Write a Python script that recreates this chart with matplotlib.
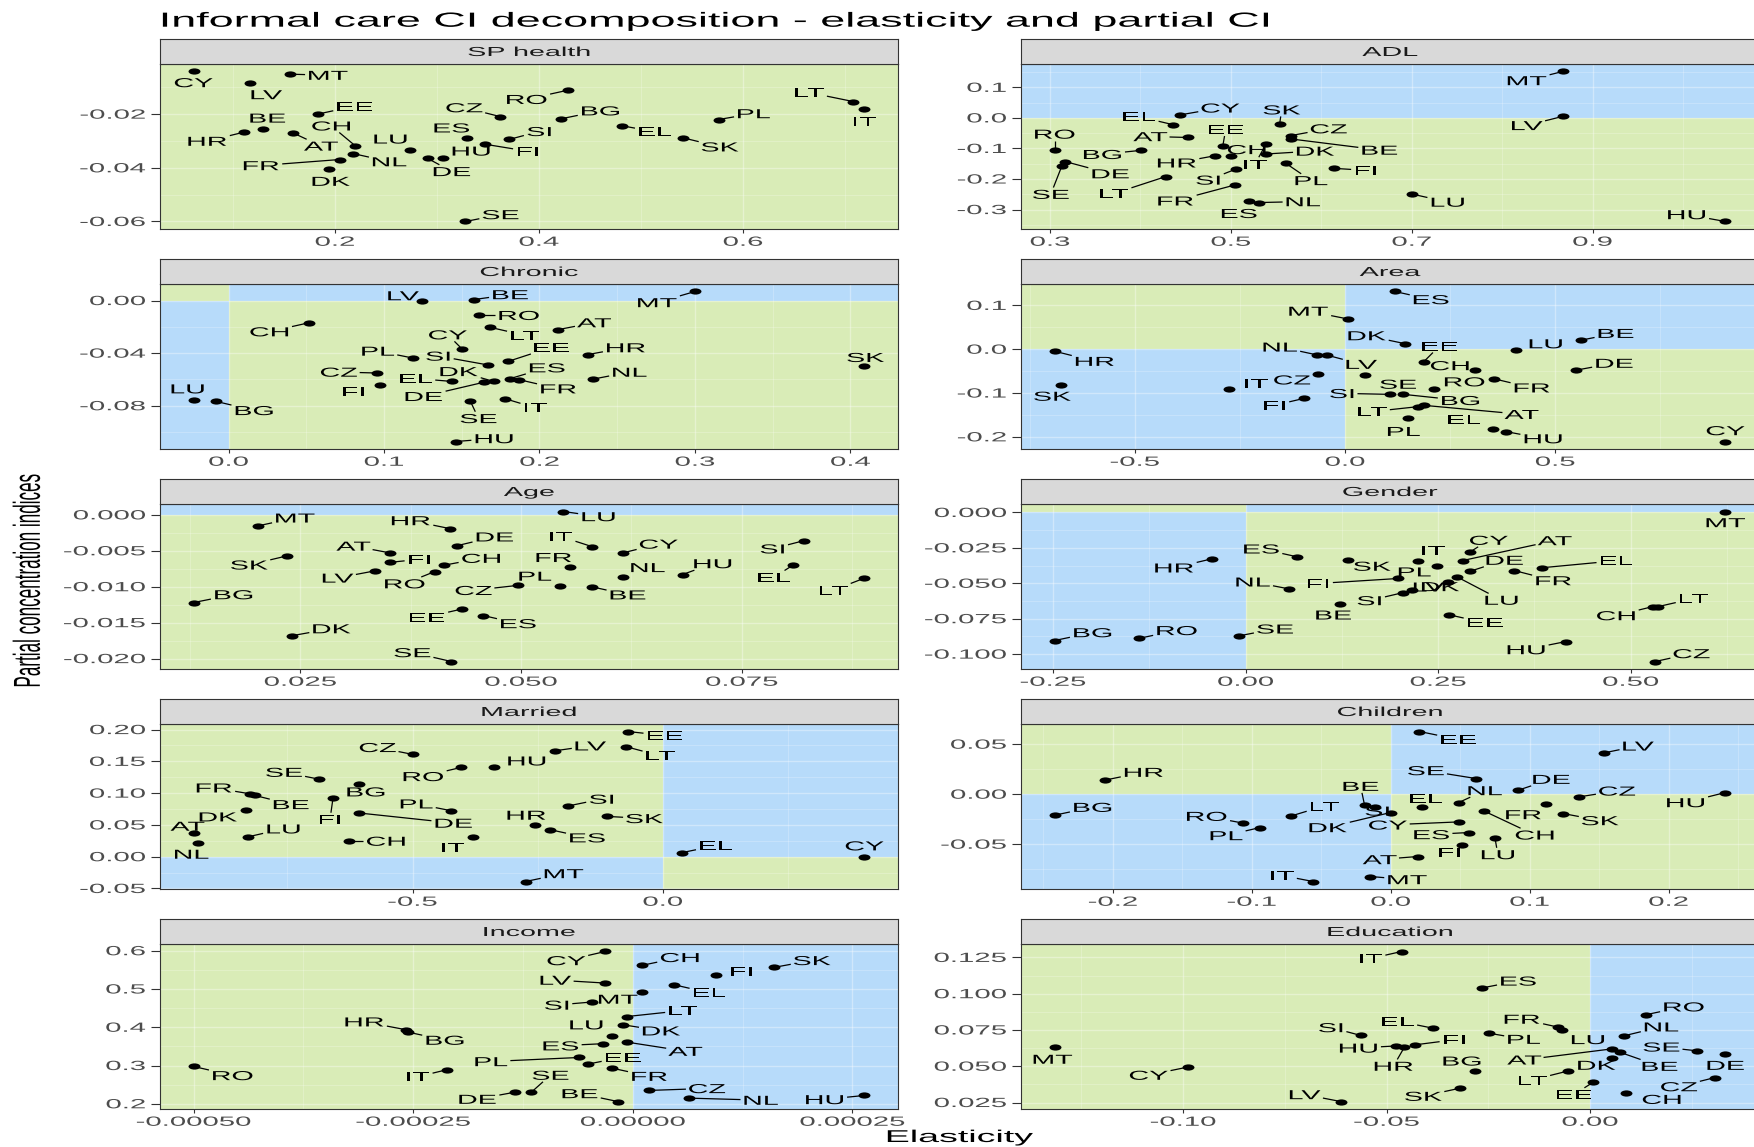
import numpy as np
import matplotlib
matplotlib.use("Agg")
import matplotlib.pyplot as plt
from matplotlib import patheffects
from matplotlib.transforms import Affine2D
from matplotlib.path import Path
from matplotlib.patches import Rectangle

plt.rcParams["font.family"] = ["Liberation Sans", "DejaVu Sans"]

# ---------------------------------------------------------------- data
countries = ["AT", "BE", "BG", "CH", "CY", "CZ", "DE", "DK", "EE", "EL", "ES", "FI", "FR",
             "HR", "HU", "IT", "LT", "LU", "LV", "MT", "NL", "PL", "RO", "SE", "SI", "SK"]

panel_titles = ["SP health", "ADL", "Chronic", "Area", "Age", "Gender",
                "Married", "Children", "Income", "Education"]

sp_health_elast = [0.159, 0.130, 0.422, 0.220, 0.0615, 0.362, 0.291, 0.194, 0.183, 0.481, 0.329, 0.347, 0.205,
                   0.111, 0.306, 0.719, 0.708, 0.274, 0.117, 0.156, 0.218, 0.576, 0.428, 0.328, 0.371, 0.541]
sp_health_ci = [-0.0270, -0.0255, -0.0217, -0.0318, -0.0041, -0.0209, -0.0365, -0.0405, -0.0200, -0.0243, -0.0288, -0.0312, -0.0369,
                -0.0267, -0.0363, -0.0181, -0.0153, -0.0333, -0.0082, -0.0051, -0.0347, -0.0220, -0.0111, -0.0600, -0.0294, -0.0288]

adl_elast = [0.453, 0.567, 0.401, 0.500, 0.444, 0.566, 0.317, 0.539, 0.491, 0.436, 0.520, 0.614, 0.505,
             0.482, 1.047, 0.539, 0.428, 0.700, 0.867, 0.867, 0.531, 0.561, 0.305, 0.313, 0.506, 0.554]
adl_ci = [-0.064, -0.069, -0.106, -0.126, 0.010, -0.058, -0.143, -0.118, -0.093, -0.022, -0.273, -0.165, -0.219,
          -0.124, -0.339, -0.085, -0.192, -0.249, 0.005, 0.152, -0.277, -0.149, -0.105, -0.158, -0.167, -0.019]

chronic_elast = [0.212, 0.158, -0.008, 0.052, 0.150, 0.0953, 0.164, 0.1705, 0.180, 0.1435, 0.181, 0.0977, 0.187,
                 0.231, 0.1463, 0.178, 0.168, -0.0225, 0.1244, 0.300, 0.2347, 0.1185, 0.161, 0.1556, 0.167, 0.409]
chronic_ci = [-0.0221, 0.0008, -0.0767, -0.0168, -0.0366, -0.0551, -0.0622, -0.0615, -0.0462, -0.0615, -0.0594, -0.0640, -0.0602,
              -0.0411, -0.1072, -0.0747, -0.0203, -0.0754, 0.0000, 0.0069, -0.0597, -0.0437, -0.0112, -0.0767, -0.0490, -0.0500]

area_elast = [0.187, 0.5606, 0.139, 0.309, 0.905, -0.0644, 0.550, 0.1418, 0.187, 0.352, 0.1186, -0.0966, 0.354,
              -0.691, 0.383, -0.276, 0.174, 0.406, -0.0425, 0.0077, -0.067, 0.151, 0.2126, 0.0477, 0.107, -0.675]
area_ci = [-0.128, 0.0205, -0.103, -0.0485, -0.2106, -0.056, -0.0477, 0.0129, -0.0288, -0.1826, 0.1318, -0.112, -0.0674,
           -0.0045, -0.188, -0.090, -0.131, -0.0008, -0.0136, 0.0689, -0.0129, -0.1576, -0.090, -0.059, -0.103, -0.0818]

age_elast = [0.0352, 0.0580, 0.0129, 0.0413, 0.0615, 0.0497, 0.0427, 0.0241, 0.0433, 0.0808, 0.0457, 0.0352, 0.0555,
             0.0419, 0.0683, 0.0580, 0.0889, 0.0548, 0.0334, 0.0202, 0.0615, 0.0544, 0.0402, 0.0421, 0.0820, 0.0235]
age_ci = [-0.0053, -0.0100, -0.0122, -0.0070, -0.0053, -0.0098, -0.0043, -0.0168, -0.0131, -0.0070, -0.0140, -0.0066, -0.0073,
          -0.0019, -0.0083, -0.0044, -0.0088, 0.00047, -0.0078, -0.00153, -0.0087, -0.0099, -0.0079, -0.0204, -0.0036, -0.0057]

gender_elast = [0.282, 0.123, -0.248, 0.529, 0.291, 0.532, 0.292, 0.263, 0.264, 0.385, 0.067, 0.198, 0.349,
                -0.0437, 0.416, 0.224, 0.536, 0.275, 0.2155, 0.623, 0.056, 0.249, -0.1387, -0.0085, 0.205, 0.133]
gender_ci = [-0.0339, -0.0645, -0.0904, -0.0664, -0.0280, -0.1052, -0.0414, -0.0494, -0.0722, -0.0390, -0.0313, -0.0466, -0.0410,
             -0.0327, -0.0911, -0.0344, -0.0664, -0.0456, -0.0546, 0.0007, -0.0539, -0.0376, -0.0889, -0.0871, -0.0565, -0.0336]

married_elast = [-0.9376, -0.815, -0.6075, -0.627, 0.403, -0.500, -0.606, -0.833, -0.070, 0.0376, -0.225, -0.659, -0.825,
                 -0.255, -0.338, -0.3796, -0.073, -0.828, -0.215, -0.274, -0.928, -0.4226, -0.403, -0.687, -0.190, -0.111]
married_ci = [0.0372, 0.0964, 0.1148, 0.0246, 0.0000, 0.161, 0.0687, 0.0739, 0.197, 0.0063, 0.0425, 0.0917, 0.099,
              0.0498, 0.1415, 0.0314, 0.173, 0.0314, 0.1667, -0.039, 0.0215, 0.0723, 0.1405, 0.122, 0.0797, 0.0634]

children_elast = [0.0195, -0.0188, -0.242, 0.067, 0.049, 0.1355, 0.0918, 0.000, 0.0207, 0.0223, 0.0566, 0.0516, 0.112,
                  -0.206, 0.241, -0.0559, -0.0715, 0.075, 0.1535, -0.0148, 0.049, -0.094, -0.106, 0.0613, -0.011, 0.124]
children_ci = [-0.0623, -0.0110, -0.0210, -0.0167, -0.0277, -0.0027, 0.0040, -0.0183, 0.0627, -0.0130, -0.0383, -0.0507, -0.0093,
               0.0140, 0.0017, -0.0873, -0.0217, -0.0433, 0.0413, -0.0823, -0.0083, -0.0333, -0.0290, 0.0157, -0.0127, -0.0193]

income_elast = [-0.0000061, -0.0000172, -0.000256, 0.0000104, -0.0000313, 0.0000184, -0.0001337, -0.000011, -0.000051,
                0.0000472, -0.0000344, 0.0000945, -0.0000233, -0.000258, 0.0002638, -0.0002117, -0.0000067, -0.0000233,
                -0.0000313, 0.0000104, 0.0000638, -0.0000613, -0.0005, -0.0001153, -0.0000466, 0.0001607]
income_ci = [0.361, 0.206, 0.3874, 0.5617, 0.598, 0.2349, 0.2305, 0.4065, 0.3037, 0.511, 0.357, 0.537, 0.293,
             0.3935, 0.2218, 0.289, 0.428, 0.378, 0.5155, 0.492, 0.2148, 0.321, 0.2976, 0.2305, 0.466, 0.5564]

education_elast = [0.0055, 0.0073, -0.0283, 0.0088, -0.0989, 0.0307, 0.0333, 0.0055, 0.0007, -0.0387, -0.0265, -0.0429, -0.0079,
                   -0.0456, -0.0476, -0.0463, -0.0053, -0.0069, -0.0613, -0.1316, 0.0084, -0.0249, 0.0137, 0.0264, -0.0563, -0.0319]
education_ci = [0.0620, 0.0597, 0.0468, 0.0314, 0.0494, 0.0422, 0.0583, 0.0556, 0.0388, 0.0763, 0.1040, 0.0648, 0.0770,
                0.0632, 0.0640, 0.1291, 0.0468, 0.0747, 0.0257, 0.0632, 0.0710, 0.0728, 0.0855, 0.0606, 0.0712, 0.0349]

# axis breaks and their printed labels
x_breaks = [
    ([0.2, 0.4, 0.6], ["0.2", "0.4", "0.6"]),
    ([0.3, 0.5, 0.7, 0.9], ["0.3", "0.5", "0.7", "0.9"]),
    ([0.0, 0.1, 0.2, 0.3, 0.4], ["0.0", "0.1", "0.2", "0.3", "0.4"]),
    ([-0.5, 0.0, 0.5, 1.0], ["-0.5", "0.0", "0.5", "1.0"]),
    ([0.025, 0.050, 0.075], ["0.025", "0.050", "0.075"]),
    ([-0.25, 0.0, 0.25, 0.50], ["-0.25", "0.00", "0.25", "0.50"]),
    ([-0.5, 0.0], ["-0.5", "0.0"]),
    ([-0.2, -0.1, 0.0, 0.1, 0.2], ["-0.2", "-0.1", "0.0", "0.1", "0.2"]),
    ([-0.0005, -0.00025, 0.0, 0.00025], ["-0.00050", "-0.00025", "0.00000", "0.00025"]),
    ([-0.10, -0.05, 0.0], ["-0.10", "-0.05", "0.00"]),
]
y_breaks = [
    ([-0.06, -0.04, -0.02], ["-0.06", "-0.04", "-0.02"]),
    ([-0.3, -0.2, -0.1, 0.0, 0.1], ["-0.3", "-0.2", "-0.1", "0.0", "0.1"]),
    ([-0.08, -0.04, 0.0], ["-0.08", "-0.04", "0.00"]),
    ([-0.2, -0.1, 0.0, 0.1], ["-0.2", "-0.1", "0.0", "0.1"]),
    ([-0.020, -0.015, -0.010, -0.005, 0.0], ["-0.020", "-0.015", "-0.010", "-0.005", "0.000"]),
    ([-0.100, -0.075, -0.050, -0.025, 0.0], ["-0.100", "-0.075", "-0.050", "-0.025", "0.000"]),
    ([-0.05, 0.0, 0.05, 0.10, 0.15, 0.20], ["-0.05", "0.00", "0.05", "0.10", "0.15", "0.20"]),
    ([-0.05, 0.0, 0.05], ["-0.05", "0.00", "0.05"]),
    ([0.2, 0.3, 0.4, 0.5, 0.6], ["0.2", "0.3", "0.4", "0.5", "0.6"]),
    ([0.025, 0.050, 0.075, 0.100, 0.125], ["0.025", "0.050", "0.075", "0.100", "0.125"]),
]

# repelled label placement: offset of each label centre from its point, in pixels
label_nudges = [
    "AT:28,-13 BE:4,11 BG:39,8 CH:-24,20 CY:0,-11 CZ:-36,9 DE:24,-13 DK:2,-12 EE:37,8 EL:33,-6 ES:-15,10 FI:43,-7 FR:-79,-6 "
    "HR:-37,-9 HU:28,7 IT:0,-12 LT:-44,9 LU:-20,11 LV:16,-12 MT:38,-1 NL:36,-8 PL:35,6 RO:-41,-9 SE:35,7 SI:30,8 SK:37,-9",
    "AT:-38,1 BE:88,-11 BG:-39,-4 CH:16,7 CY:40,7 CZ:38,7 DE:45,-12 DK:49,3 EE:3,17 EL:-34,8 ES:-10,-12 FI:32,-2 FR:-60,-16 "
    "HR:-38,-7 HU:-39,7 IT:-11,-20 LT:-52,-17 LU:36,-8 LV:-36,-9 MT:-36,-9 NL:44,1 PL:25,-17 RO:0,16 SE:-11,-28 SI:-28,-11 SK:2,14",
    "AT:36,7 BE:36,5 BG:38,-9 CH:-40,-9 CY:-14,14 CZ:-38,1 DE:-60,-14 DK:-35,10 EE:43,14 EL:-36,3 ES:37,11 FI:-27,-7 FR:39,-9 "
    "HR:38,7 HU:38,3 IT:30,-9 LT:35,-8 LU:-6,11 LV:-19,5 MT:-38,-11 NL:36,7 PL:-35,7 RO:40,0 SE:8,-17 SI:-50,9 SK:1,9",
    "AT:98,-9 BE:35,7 BG:57,-6 CH:-25,5 CY:0,11 CZ:-26,-6 DE:38,7 DK:-38,8 EE:16,16 EL:-29,10 ES:36,-8 FI:-30,-7 FR:38,-9 "
    "HR:40,-10 HU:37,-7 IT:27,5 LT:-46,-5 LU:30,6 LV:34,-9 MT:-40,8 NL:-37,8 PL:-5,-13 RO:30,7 SE:33,-9 SI:-48,1 SK:-9,-11",
    "AT:-37,7 BE:36,-8 BG:40,8 CH:37,7 CY:36,9 CZ:-45,-5 DE:38,9 DK:39,7 EE:-35,-8 EL:-19,-12 ES:35,-8 FI:29,3 FR:-16,10 "
    "HR:-39,8 HU:30,11 IT:-31,10 LT:-31,-12 LU:35,-5 LV:-37,-7 MT:37,8 NL:25,10 PL:-25,10 RO:-30,-12 SE:-39,9 SI:-31,-8 SK:-38,-9",
    "AT:92,20 BE:-7,-11 BG:38,8 CH:-37,-9 CY:19,12 CZ:36,8 DE:34,11 DK:-8,-4 EE:36,-8 EL:74,7 ES:-36,8 FI:-80,-5 FR:39,-10 "
    "HR:-38,-9 HU:-40,-8 IT:15,11 LT:35,8 LU:44,-23 LV:17,3 MT:0,-11 NL:-36,7 PL:-23,-6 RO:38,8 SE:36,7 SI:-34,-8 SK:24,-6",
    "AT:-6,7 BE:36,-9 BG:7,-8 CH:37,0 CY:0,11 CZ:-35,7 DE:94,-10 DK:-28,-7 EE:37,-4 EL:34,7 ES:37,-8 FI:-3,-21 FR:-36,6 "
    "HR:-9,10 HU:33,6 IT:-20,-11 LT:34,-9 LU:35,8 LV:35,5 MT:38,8 NL:-7,-11 PL:-35,7 RO:-38,-9 SE:-35,7 SI:34,7 SK:37,-2",
    "AT:-38,-3 BE:-4,19 BG:38,8 CH:51,-24 CY:-71,-3 CZ:38,6 DE:33,11 DK:-63,-15 EE:39,-8 EL:4,9 ES:-38,-2 FI:-13,-7 FR:-23,-11 "
    "HR:39,8 HU:-40,-10 IT:-31,6 LT:33,10 LU:3,-17 LV:34,7 MT:37,-3 NL:26,12 PL:-34,-8 RO:-37,7 SE:-50,8 SI:2,-4 SK:37,-7",
    "AT:58,-9 BE:-38,8 BG:37,-8 CH:38,8 CY:-39,-9 CZ:58,2 DE:-38,-7 DK:38,-6 EE:35,7 EL:35,-8 ES:-42,-2 FI:26,4 FR:37,-8 "
    "HR:-42,8 HU:-40,-4 IT:-29,-7 LT:56,6 LU:-26,11 LV:-50,3 MT:-24,-7 NL:72,-2 PL:-88,-4 RO:39,-9 SE:19,17 SI:-35,-3 SK:38,7",
    "AT:-88,-11 BE:40,-14 BG:-13,10 CH:36,-6 CY:-39,-8 CZ:-36,-9 DE:0,-11 DK:-16,-7 EE:-19,-12 EL:-35,7 ES:36,7 FI:39,5 FR:-36,8 "
    "HR:-11,-19 HU:-38,-2 IT:-31,-7 LT:-36,-9 LU:26,-9 LV:-36,7 MT:-2,-12 NL:37,9 PL:35,-6 RO:38,8 SE:-36,4 SI:-30,8 SK:-37,-8",
]

panel_x = [sp_health_elast, adl_elast, chronic_elast, area_elast, age_elast,
           gender_elast, married_elast, children_elast, income_elast, education_elast]
panel_y = [sp_health_ci, adl_ci, chronic_ci, area_ci, age_ci,
           gender_ci, married_ci, children_ci, income_ci, education_ci]

# ---------------------------------------------------------------- style
W_PX, H_PX, DPI = 1754, 1147, 100
WIDEN = 2.2                       # horizontal widening applied to all lettering
GREEN = "#d9ecb7"
BLUE = "#b7dbfa"
STRIP_FILL = "#d9d9d9"
FRAME = "#333333"
TICK_TXT = "#4d4d4d"
LABEL_SIZE = 9.4
TICK_SIZE = 9.6
STRIP_SIZE = 9.4

COL_X = [160, 1021]
PANEL_W = 738
ROW_TOP = [39 + 220 * r for r in range(5)]
STRIP_H = 25
PLOT_H = 165


class Widen(patheffects.AbstractPathEffect):
    """Render a text path stretched horizontally about an anchor."""

    def __init__(self, factor=WIDEN, anchor="center"):
        super().__init__()
        self.factor = factor
        self.anchor = anchor

    def draw_path(self, renderer, gc, tpath, affine, rgbFace=None):
        ext = tpath.get_extents(affine)
        if self.anchor == "left":
            x0 = ext.x0
        elif self.anchor == "right":
            x0 = ext.x1
        else:
            x0 = 0.5 * (ext.x0 + ext.x1)
        widen = Affine2D().translate(-x0, 0).scale(self.factor, 1.0).translate(x0, 0)
        renderer.draw_path(gc, tpath, affine + widen, rgbFace)


def px_box(x0, top, w, h):
    return [x0 / W_PX, 1 - (top + h) / H_PX, w / W_PX, h / H_PX]


def parse_nudges(spec):
    out = {}
    for item in spec.split():
        key, val = item.split(":")
        dx, dy = val.split(",")
        out[key] = (float(dx), float(dy))
    return out


def minor_breaks(major):
    major = np.asarray(major, float)
    step = major[1] - major[0]
    ext = np.concatenate([[major[0] - step], major, [major[-1] + step]])
    return 0.5 * (ext[:-1] + ext[1:])


dot = Affine2D().scale(1.0, 0.52).transform_path(Path.unit_circle())

fig = plt.figure(figsize=(W_PX / DPI, H_PX / DPI), dpi=DPI)
fig.patch.set_facecolor("white")

cap_px = LABEL_SIZE * DPI / 72 * 0.716
placed = []

for i, title in enumerate(panel_titles):
    row, col = divmod(i, 2)
    x0 = COL_X[col]
    top = ROW_TOP[row]
    ax = fig.add_axes(px_box(x0, top + STRIP_H, PANEL_W, PLOT_H))
    sax = fig.add_axes(px_box(x0, top, PANEL_W, STRIP_H))

    xs = np.asarray(panel_x[i], float)
    ys = np.asarray(panel_y[i], float)
    xr = xs.max() - xs.min()
    yr = ys.max() - ys.min()
    xlo, xhi = xs.min() - 0.05 * xr, xs.max() + 0.05 * xr
    ylo, yhi = ys.min() - 0.05 * yr, ys.max() + 0.05 * yr
    ax.set_xlim(xlo, xhi)
    ax.set_ylim(ylo, yhi)

    # sign quadrants: same sign -> blue, opposite sign -> green
    for xa, xb, xsign in [(xlo, min(0.0, xhi), -1), (max(0.0, xlo), xhi, 1)]:
        if xb <= xa:
            continue
        for ya, yb, ysign in [(ylo, min(0.0, yhi), -1), (max(0.0, ylo), yhi, 1)]:
            if yb <= ya:
                continue
            colr = BLUE if xsign == ysign else GREEN
            ax.add_patch(Rectangle((xa, ya), xb - xa, yb - ya, facecolor=colr,
                                   edgecolor="none", zorder=0.2))

    xt, xl = x_breaks[i]
    yt, yl = y_breaks[i]
    ax.set_xticks(xt, xl)
    ax.set_yticks(yt, yl)
    ax.set_xticks(minor_breaks(xt), minor=True)
    ax.set_yticks(minor_breaks(yt), minor=True)
    ax.set_xlim(xlo, xhi)
    ax.set_ylim(ylo, yhi)
    ax.set_axisbelow(True)
    ax.grid(True, which="major", color="white", alpha=0.35, lw=1.0)
    ax.grid(True, which="minor", color="white", alpha=0.25, lw=0.6)
    ax.tick_params(which="minor", length=0)
    ax.tick_params(axis="x", which="major", length=3.1, width=0.8, color=FRAME, pad=2.5,
                   labelsize=TICK_SIZE, labelcolor=TICK_TXT)
    ax.tick_params(axis="y", which="major", length=6.5, width=0.8, color=FRAME, pad=4.0,
                   labelsize=TICK_SIZE, labelcolor=TICK_TXT)
    for lab in ax.get_xticklabels():
        lab.set_path_effects([Widen(anchor="center")])
    for lab in ax.get_yticklabels():
        lab.set_path_effects([Widen(anchor="right")])
    for sp in ax.spines.values():
        sp.set_color(FRAME)
        sp.set_linewidth(0.8)
        sp.set_zorder(6)

    ax.plot(xs, ys, linestyle="none", marker=dot, markersize=8.6,
            color="black", markeredgewidth=0, zorder=3)

    nudges = parse_nudges(label_nudges[i])
    for c, xv, yv in zip(countries, xs, ys):
        dx, dy = nudges[c]
        ann = ax.annotate(c, (xv, yv), xytext=(dx, dy - cap_px / 2), textcoords="offset pixels",
                          ha="center", va="baseline", fontsize=LABEL_SIZE, color="black",
                          zorder=5, path_effects=[Widen(anchor="center")])
        placed.append((ax, ann, xv, yv, dx, dy))

    # facet strip
    sax.set_xticks([])
    sax.set_yticks([])
    sax.set_facecolor(STRIP_FILL)
    for sp in sax.spines.values():
        sp.set_color(FRAME)
        sp.set_linewidth(0.8)
    sax.text(0.5, 0.5, title, transform=sax.transAxes, ha="center", va="center_baseline",
             fontsize=STRIP_SIZE, color="#1a1a1a", path_effects=[Widen(anchor="center")])

fig.text(161 / W_PX, 1 - 26.7 / H_PX, "Informal care CI decomposition - elasticity and partial CI",
         ha="left", va="baseline", fontsize=14.7, color="black",
         path_effects=[Widen(anchor="left")])
fig.text(28 / W_PX, 1 - 580 / H_PX, "Partial concentration indices", rotation=90,
         ha="center", va="center", fontsize=12.3, color="black",
         path_effects=[Widen(anchor="center")])
fig.text(960 / W_PX, 1 - 1142 / H_PX, "Elasticity", ha="center", va="baseline",
         fontsize=12.3, color="black", path_effects=[Widen(anchor="center")])

# leader segments from each point to the edge of its (widened) label box
fig.canvas.draw()
renderer = fig.canvas.get_renderer()
for ax, ann, xv, yv, dx, dy in placed:
    bb = ann.get_window_extent(renderer)
    p = ax.transData.transform((xv, yv))
    c = p + np.array([dx, dy])
    hw = bb.width * WIDEN / 2 + 2.0
    hh = cap_px / 2 + 2.0
    d = c - p
    s_candidates = []
    if abs(d[0]) > 1e-9:
        s_candidates.append(hw / abs(d[0]))
    if abs(d[1]) > 1e-9:
        s_candidates.append(hh / abs(d[1]))
    if not s_candidates:
        continue
    s = min(s_candidates)
    if s >= 1:
        continue
    e = c - s * d
    gap = np.hypot((e[0] - p[0]) / WIDEN, e[1] - p[1])
    if gap < 6.5:
        continue
    pd = ax.transData.inverted().transform(np.vstack([p, e]))
    ax.plot(pd[:, 0], pd[:, 1], color="black", lw=0.9, zorder=4, solid_capstyle="butt")

fig.savefig("out.png", dpi=DPI)
